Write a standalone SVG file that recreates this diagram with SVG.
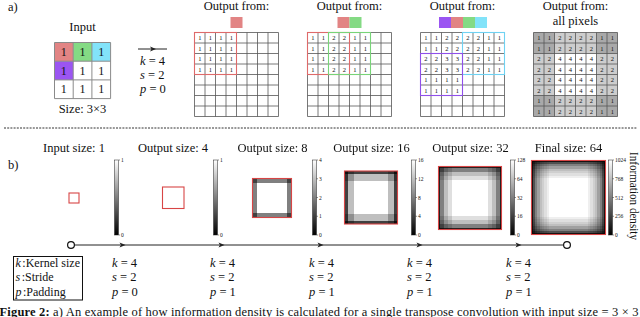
<svg xmlns="http://www.w3.org/2000/svg" width="640" height="317" viewBox="0 0 640 317">
<style>
text{font-family:"Liberation Serif","DejaVu Serif",serif;fill:#111}
.t{font-size:12.5px}
.tc{font-size:12.5px;text-anchor:middle}
.m{font-size:12.5px}
.i{font-style:italic}
.d{font-size:6.5px;text-anchor:middle}
.din{font-size:12px;text-anchor:middle}
.cb{font-size:5.5px}
.gl{fill:none;stroke:#555;stroke-width:.8}
.red{fill:none;stroke:#de6a6a;stroke-width:1.1}
.grn{fill:none;stroke:#78d478;stroke-width:1.1}
.cyn{fill:none;stroke:#6fd2f2;stroke-width:1.1}
.pur{fill:none;stroke:#9050ea;stroke-width:1.1}
.hb{fill:none;stroke:#d84545;stroke-width:1.1}
.bar{fill:url(#cbg);stroke:#222;stroke-width:.5}
.tk{stroke:#222;stroke-width:.5}
</style>
<defs>
<path id="g8" d="M0 0V84M10.5 0V84M21 0V84M31.5 0V84M42 0V84M52.5 0V84M63 0V84M73.5 0V84M84 0V84M0 0H84M0 10.5H84M0 21H84M0 31.5H84M0 42H84M0 52.5H84M0 63H84M0 73.5H84M0 84H84"/>
<linearGradient id="cbg" x1="0" y1="0" x2="0" y2="1"><stop offset="0" stop-color="#fff"/><stop offset="1" stop-color="#000"/></linearGradient>
<linearGradient id="h8"><stop offset="0" stop-color="#808080"/><stop offset=".125" stop-color="#808080"/><stop offset=".125" stop-color="#fff"/><stop offset=".875" stop-color="#fff"/><stop offset=".875" stop-color="#808080"/><stop offset="1" stop-color="#808080"/></linearGradient>
<linearGradient id="v8" href="#h8" x1="0" y1="0" x2="0" y2="1"/>
<linearGradient id="h16"><stop offset="0" stop-color="#404040"/><stop offset=".0625" stop-color="#404040"/><stop offset=".0625" stop-color="#bfbfbf"/><stop offset=".1875" stop-color="#bfbfbf"/><stop offset=".1875" stop-color="#fff"/><stop offset=".8125" stop-color="#fff"/><stop offset=".8125" stop-color="#bfbfbf"/><stop offset=".9375" stop-color="#bfbfbf"/><stop offset=".9375" stop-color="#404040"/><stop offset="1" stop-color="#404040"/></linearGradient>
<linearGradient id="v16" href="#h16" x1="0" y1="0" x2="0" y2="1"/>
<linearGradient id="h32"><stop offset="0" stop-color="#202020"/><stop offset=".03125" stop-color="#202020"/><stop offset=".03125" stop-color="#808080"/><stop offset=".09375" stop-color="#808080"/><stop offset=".09375" stop-color="#bfbfbf"/><stop offset=".15625" stop-color="#bfbfbf"/><stop offset=".15625" stop-color="#dfdfdf"/><stop offset=".21875" stop-color="#dfdfdf"/><stop offset=".21875" stop-color="#fff"/><stop offset=".78125" stop-color="#fff"/><stop offset=".78125" stop-color="#dfdfdf"/><stop offset=".84375" stop-color="#dfdfdf"/><stop offset=".84375" stop-color="#bfbfbf"/><stop offset=".90625" stop-color="#bfbfbf"/><stop offset=".90625" stop-color="#808080"/><stop offset=".96875" stop-color="#808080"/><stop offset=".96875" stop-color="#202020"/><stop offset="1" stop-color="#202020"/></linearGradient>
<linearGradient id="v32" href="#h32" x1="0" y1="0" x2="0" y2="1"/>
<linearGradient id="h64"><stop offset="0" stop-color="#101010"/><stop offset=".015625" stop-color="#101010"/><stop offset=".015625" stop-color="#505050"/><stop offset=".046875" stop-color="#505050"/><stop offset=".046875" stop-color="#808080"/><stop offset=".078125" stop-color="#808080"/><stop offset=".078125" stop-color="#a0a0a0"/><stop offset=".109375" stop-color="#a0a0a0"/><stop offset=".109375" stop-color="#bfbfbf"/><stop offset=".140625" stop-color="#bfbfbf"/><stop offset=".140625" stop-color="#cfcfcf"/><stop offset=".171875" stop-color="#cfcfcf"/><stop offset=".171875" stop-color="#dfdfdf"/><stop offset=".203125" stop-color="#dfdfdf"/><stop offset=".203125" stop-color="#efefef"/><stop offset=".234375" stop-color="#efefef"/><stop offset=".234375" stop-color="#fff"/><stop offset=".765625" stop-color="#fff"/><stop offset=".765625" stop-color="#efefef"/><stop offset=".796875" stop-color="#efefef"/><stop offset=".796875" stop-color="#dfdfdf"/><stop offset=".828125" stop-color="#dfdfdf"/><stop offset=".828125" stop-color="#cfcfcf"/><stop offset=".859375" stop-color="#cfcfcf"/><stop offset=".859375" stop-color="#bfbfbf"/><stop offset=".890625" stop-color="#bfbfbf"/><stop offset=".890625" stop-color="#a0a0a0"/><stop offset=".921875" stop-color="#a0a0a0"/><stop offset=".921875" stop-color="#808080"/><stop offset=".953125" stop-color="#808080"/><stop offset=".953125" stop-color="#505050"/><stop offset=".984375" stop-color="#505050"/><stop offset=".984375" stop-color="#101010"/><stop offset="1" stop-color="#101010"/></linearGradient>
<linearGradient id="v64" href="#h64" x1="0" y1="0" x2="0" y2="1"/>
</defs>
<rect width="640" height="317" fill="#fff"/>

<!-- Part a -->
<text class="t" x="8" y="10.5">a)</text>

<g id="input-grid">
<text class="tc" x="82.5" y="30.5">Input</text>
<rect x="54.5" y="42.5" width="18.7" height="18.7" fill="#e28484"/>
<rect x="73.2" y="42.5" width="18.7" height="18.7" fill="#84da84"/>
<rect x="91.9" y="42.5" width="18.7" height="18.7" fill="#82e3f9"/>
<rect x="54.5" y="61.2" width="18.7" height="18.7" fill="#9b55f2"/>
<path d="M54.5 42.5H110.6V98.6H54.5ZM73.2 42.5V98.6M91.9 42.5V98.6M54.5 61.2H110.6M54.5 79.9H110.6" fill="none" stroke="#8a8a8a" stroke-width="1"/>
<text class="din" x="63.85 82.55 101.25" y="55.9">111</text>
<text class="din" x="63.85 82.55 101.25" y="74.6">111</text>
<text class="din" x="63.85 82.55 101.25" y="93.3">111</text>
<text class="tc" x="82.5" y="113" font-size="12">Size: 3×3</text>
</g>

<g id="params-a">
<line x1="138" y1="49" x2="167" y2="49" stroke="#222" stroke-width="1"/>
<path d="M156 49L150 46.6L151.5 49L150 51.4Z" fill="#222"/>
<text class="m" x="140" y="65"><tspan class="i">k</tspan> = 4</text>
<text class="m" x="140" y="79"><tspan class="i">s</tspan> = 2</text>
<text class="m" x="140" y="92.5"><tspan class="i">p</tspan> = 0</text>
</g>

<g id="output-1">
<text class="tc" x="236.5" y="9.5">Output from:</text>
<rect x="230.5" y="17" width="12" height="11" fill="#e28484"/>
<use href="#g8" x="194.5" y="32.5" class="gl"/>
<text class="d" x="199.75 210.25 220.75 231.25" y="40.05">1111</text>
<text class="d" x="199.75 210.25 220.75 231.25" y="50.55">1111</text>
<text class="d" x="199.75 210.25 220.75 231.25" y="61.05">1111</text>
<text class="d" x="199.75 210.25 220.75 231.25" y="71.55">1111</text>
<rect class="red" x="194.5" y="32.5" width="42" height="42"/>
</g>

<g id="output-2">
<text class="tc" x="349.5" y="9.5">Output from:</text>
<rect x="337.5" y="17" width="12" height="11" fill="#e28484"/>
<rect x="349.5" y="17" width="12" height="11" fill="#84da84"/>
<use href="#g8" x="307.5" y="32.5" class="gl"/>
<text class="d" x="312.75 323.25 333.75 344.25 354.75 365.25" y="40.05">112211</text>
<text class="d" x="312.75 323.25 333.75 344.25 354.75 365.25" y="50.55">112211</text>
<text class="d" x="312.75 323.25 333.75 344.25 354.75 365.25" y="61.05">112211</text>
<text class="d" x="312.75 323.25 333.75 344.25 354.75 365.25" y="71.55">112211</text>
<rect class="red" x="307.5" y="32.5" width="42" height="42"/>
<rect class="grn" x="328.5" y="32.5" width="42" height="42"/>
</g>

<g id="output-3">
<text class="tc" x="462.5" y="9.5">Output from:</text>
<rect x="439" y="17" width="12" height="11" fill="#9b55f2"/>
<rect x="451" y="17" width="12" height="11" fill="#e28484"/>
<rect x="463" y="17" width="12" height="11" fill="#84da84"/>
<rect x="475" y="17" width="12" height="11" fill="#82e3f9"/>
<use href="#g8" x="420.5" y="32.5" class="gl"/>
<text class="d" x="425.75 436.25 446.75 457.25 467.75 478.25 488.75 499.25" y="40.05">11222211</text>
<text class="d" x="425.75 436.25 446.75 457.25 467.75 478.25 488.75 499.25" y="50.55">11222211</text>
<text class="d" x="425.75 436.25 446.75 457.25 467.75 478.25 488.75 499.25" y="61.05">22332211</text>
<text class="d" x="425.75 436.25 446.75 457.25 467.75 478.25 488.75 499.25" y="71.55">22332211</text>
<text class="d" x="425.75 436.25 446.75 457.25" y="82.05">1111</text>
<text class="d" x="425.75 436.25 446.75 457.25" y="92.55">1111</text>
<rect class="cyn" x="462.5" y="32.5" width="42" height="42"/>
<rect class="pur" x="420.5" y="53.5" width="42" height="42"/>
</g>

<g id="output-all">
<text class="tc" x="575.5" y="9.5">Output from:</text>
<text class="tc" x="575.5" y="24.5">all pixels</text>
<rect x="533.5" y="32.5" width="84" height="84" fill="#cdcdcd"/>
<rect x="533.5" y="32.5" width="21" height="21" fill="#a9a9a9"/>
<rect x="596.5" y="32.5" width="21" height="21" fill="#a9a9a9"/>
<rect x="533.5" y="95.5" width="21" height="21" fill="#a9a9a9"/>
<rect x="596.5" y="95.5" width="21" height="21" fill="#a9a9a9"/>
<rect x="554.5" y="53.5" width="42" height="42" fill="#fff"/>
<use href="#g8" x="533.5" y="32.5" class="gl"/>
<text class="d" x="538.75 549.25 559.75 570.25 580.75 591.25 601.75 612.25" y="40.05">11222211</text>
<text class="d" x="538.75 549.25 559.75 570.25 580.75 591.25 601.75 612.25" y="50.55">11222211</text>
<text class="d" x="538.75 549.25 559.75 570.25 580.75 591.25 601.75 612.25" y="61.05">22444422</text>
<text class="d" x="538.75 549.25 559.75 570.25 580.75 591.25 601.75 612.25" y="71.55">22444422</text>
<text class="d" x="538.75 549.25 559.75 570.25 580.75 591.25 601.75 612.25" y="82.05">22444422</text>
<text class="d" x="538.75 549.25 559.75 570.25 580.75 591.25 601.75 612.25" y="92.55">22444422</text>
<text class="d" x="538.75 549.25 559.75 570.25 580.75 591.25 601.75 612.25" y="103.05">11222211</text>
<text class="d" x="538.75 549.25 559.75 570.25 580.75 591.25 601.75 612.25" y="113.55">11222211</text>
</g>

<line x1="4" y1="128" x2="637" y2="128" stroke="#333" stroke-width="1" stroke-dasharray="2 1.2"/>

<!-- Part b -->
<text class="t" x="8" y="169">b)</text>

<g id="stage-1">
<text class="tc" x="74" y="152">Input size: 1</text>
<rect class="hb" x="69" y="193" width="10" height="10" fill="#fff"/>
</g>
<g id="stage-2">
<text class="tc" x="173" y="152">Output size: 4</text>
<rect class="hb" x="162.5" y="187" width="21.5" height="21.5" fill="#fff"/>
</g>
<g id="stage-3" style="isolation:isolate">
<text class="tc" x="272.5" y="152">Output size: 8</text>
<rect x="252.5" y="178.5" width="39" height="39" fill="url(#h8)"/>
<rect x="252.5" y="178.5" width="39" height="39" fill="url(#v8)" style="mix-blend-mode:multiply"/>
<rect class="hb" x="252.5" y="178.5" width="39" height="39"/>
</g>
<g id="stage-4" style="isolation:isolate">
<text class="tc" x="371.5" y="152">Output size: 16</text>
<rect x="344.5" y="171" width="53" height="53" fill="url(#h16)"/>
<rect x="344.5" y="171" width="53" height="53" fill="url(#v16)" style="mix-blend-mode:multiply"/>
<rect class="hb" x="344.5" y="171" width="53" height="53"/>
</g>
<g id="stage-5" style="isolation:isolate">
<text class="tc" x="470.5" y="152">Output size: 32</text>
<rect x="438.5" y="166.5" width="63" height="63" fill="url(#h32)"/>
<rect x="438.5" y="166.5" width="63" height="63" fill="url(#v32)" style="mix-blend-mode:multiply"/>
<rect class="hb" x="438.5" y="166.5" width="63" height="63"/>
</g>
<g id="stage-6" style="isolation:isolate">
<text class="tc" x="568.5" y="152">Final size: 64</text>
<rect x="531.5" y="160.5" width="74" height="74" fill="url(#h64)"/>
<rect x="531.5" y="160.5" width="74" height="74" fill="url(#v64)" style="mix-blend-mode:multiply"/>
<rect class="hb" x="531.5" y="160.5" width="74" height="74"/>
</g>

<g id="colorbars">
<rect class="bar" x="114.5" y="160" width="4" height="75"/>
<path class="tk" d="M118.5 160h1.5M118.5 235h1.5"/>
<text class="cb" x="121" y="162">1</text><text class="cb" x="121" y="237">0</text>

<rect class="bar" x="213.5" y="160" width="4" height="75"/>
<path class="tk" d="M217.5 160h1.5M217.5 235h1.5"/>
<text class="cb" x="220" y="162">1</text><text class="cb" x="220" y="237">0</text>

<rect class="bar" x="312.5" y="160" width="4" height="75"/>
<path class="tk" d="M316.5 160h1.5M316.5 178.75h1.5M316.5 197.5h1.5M316.5 216.25h1.5M316.5 235h1.5"/>
<text class="cb" x="319" y="162">4</text><text class="cb" x="319" y="180.75">3</text><text class="cb" x="319" y="199.5">2</text><text class="cb" x="319" y="218.25">1</text><text class="cb" x="319" y="237">0</text>

<rect class="bar" x="411.5" y="160" width="4" height="75"/>
<path class="tk" d="M415.5 160h1.5M415.5 178.75h1.5M415.5 197.5h1.5M415.5 216.25h1.5M415.5 235h1.5"/>
<text class="cb" x="418" y="162">16</text><text class="cb" x="418" y="180.75">12</text><text class="cb" x="418" y="199.5">8</text><text class="cb" x="418" y="218.25">4</text><text class="cb" x="418" y="237">0</text>

<rect class="bar" x="510.5" y="160" width="4" height="75"/>
<path class="tk" d="M514.5 160h1.5M514.5 178.75h1.5M514.5 197.5h1.5M514.5 216.25h1.5M514.5 235h1.5"/>
<text class="cb" x="517" y="162">128</text><text class="cb" x="517" y="180.75">64</text><text class="cb" x="517" y="199.5">32</text><text class="cb" x="517" y="218.25">16</text><text class="cb" x="517" y="237">0</text>

<rect class="bar" x="608.5" y="160" width="4" height="75"/>
<path class="tk" d="M612.5 160h1.5M612.5 178.75h1.5M612.5 197.5h1.5M612.5 216.25h1.5M612.5 235h1.5"/>
<text class="cb" x="615" y="162">1024</text><text class="cb" x="615" y="180.75">768</text><text class="cb" x="615" y="199.5">512</text><text class="cb" x="615" y="218.25">256</text><text class="cb" x="615" y="237">0</text>

<text transform="translate(630 196) rotate(90)" text-anchor="middle" font-size="11.5" textLength="88" lengthAdjust="spacingAndGlyphs">Information density</text>
</g>

<g id="connectors">
<line x1="74.5" y1="245" x2="563.5" y2="245" stroke="#222" stroke-width="1"/>
<path d="M125.5 245l-6-2.4l1.5 2.4l-1.5 2.4zM224.5 245l-6-2.4l1.5 2.4l-1.5 2.4zM323.5 245l-6-2.4l1.5 2.4l-1.5 2.4zM422.5 245l-6-2.4l1.5 2.4l-1.5 2.4zM521.5 245l-6-2.4l1.5 2.4l-1.5 2.4z" fill="#222"/>
<circle cx="71" cy="245" r="3.4" fill="#fff" stroke="#111" stroke-width="1.2"/>
<circle cx="567" cy="245" r="3.4" fill="#fff" stroke="#111" stroke-width="1.2"/>
</g>

<g id="legend">
<rect x="13.5" y="256.5" width="69" height="43.5" fill="none" stroke="#111" stroke-width="1"/>
<text font-size="12" x="15.5" y="266.5"><tspan class="i">k</tspan><tspan dx="1.5">:Kernel size</tspan></text>
<text font-size="12" x="15.5" y="281"><tspan class="i">s</tspan><tspan dx="1.5">:Stride</tspan></text>
<text font-size="12" x="15.5" y="295.5"><tspan class="i">p</tspan><tspan dx="1.5">:Padding</tspan></text>
</g>

<g id="params-b">
<text class="m" x="112" y="266.5"><tspan class="i">k</tspan> = 4</text>
<text class="m" x="112" y="281"><tspan class="i">s</tspan> = 2</text>
<text class="m" x="112" y="295.5"><tspan class="i">p</tspan> = 0</text>
<text class="m" x="210" y="266.5"><tspan class="i">k</tspan> = 4</text>
<text class="m" x="210" y="281"><tspan class="i">s</tspan> = 2</text>
<text class="m" x="210" y="295.5"><tspan class="i">p</tspan> = 1</text>
<text class="m" x="309" y="266.5"><tspan class="i">k</tspan> = 4</text>
<text class="m" x="309" y="281"><tspan class="i">s</tspan> = 2</text>
<text class="m" x="309" y="295.5"><tspan class="i">p</tspan> = 1</text>
<text class="m" x="407" y="266.5"><tspan class="i">k</tspan> = 4</text>
<text class="m" x="407" y="281"><tspan class="i">s</tspan> = 2</text>
<text class="m" x="407" y="295.5"><tspan class="i">p</tspan> = 1</text>
<text class="m" x="506" y="266.5"><tspan class="i">k</tspan> = 4</text>
<text class="m" x="506" y="281"><tspan class="i">s</tspan> = 2</text>
<text class="m" x="506" y="295.5"><tspan class="i">p</tspan> = 1</text>
</g>

<text x="-0.5" y="315.5" font-size="12.5" textLength="639" lengthAdjust="spacing"><tspan font-weight="bold">Figure 2:</tspan> a) An example of how information density is calculated for a single transpose convolution with input size = 3 × 3</text>
</svg>
